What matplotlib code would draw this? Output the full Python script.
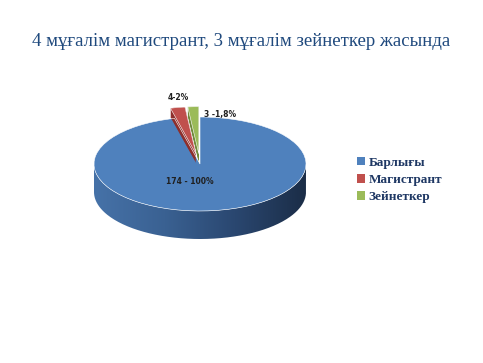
import numpy as np
import matplotlib.pyplot as plt
from matplotlib.patches import Patch, PathPatch
from matplotlib.path import Path
from matplotlib.colors import LinearSegmentedColormap

# data
labels = ['Барлығы', 'Магистрант', 'Зейнеткер']
values = [174, 4, 3]
value_labels = ['174 - 100%', '4-2%', '3 -1,8%']
colors = ['#4F81BD', '#C0504D', '#9BBB59']
side_colors = ['#2E4D75', '#8E2F2C', '#6F8A3A']
explode = [0, 0.22, 0.22]

W, H = 483, 363
fig = plt.figure(figsize=(W / 100, H / 100), dpi=100)
ax = fig.add_axes([0, 0, 1, 1])

# pie geometry in pixels (ellipse)
cx, cy, rx, ry, depth = 200, 164, 106, 47, 28
d = depth / ry

def pie_layer(cols, dy=0.0, ec='none', lw=0):
    w, _ = ax.pie(values, colors=cols, explode=explode, startangle=90,
                  counterclock=False, center=(0, -dy), radius=1,
                  wedgeprops=dict(edgecolor=ec, linewidth=lw))
    return w

# blue side band with gradient
t = np.linspace(np.pi, 2 * np.pi, 200)
xs = np.concatenate([np.cos(t), np.cos(t[::-1])])
ys = np.concatenate([np.sin(t), np.sin(t[::-1]) - d])
band = PathPatch(Path(np.column_stack([xs, ys])), facecolor='none', edgecolor='none')
ax.add_patch(band)
cmap = LinearSegmentedColormap.from_list('side', ['#4672A8', '#3A6192', '#2A4770', '#1B2D47'])
grad = np.linspace(0, 1, 256).reshape(1, -1)
im = ax.imshow(grad, cmap=cmap, extent=(-1, 1, -1 - d, 0), aspect='auto', zorder=1)
im.set_clip_path(band)

# blue top face
top_blue = pie_layer([colors[0], 'none', 'none'])
for w in top_blue:
    w.set_zorder(2)

# sides of the small slices
for k in np.linspace(0, 9 / ry, 10)[::-1]:
    for w in pie_layer(['none', side_colors[1], side_colors[2]], dy=k):
        w.set_zorder(3)
for w in pie_layer(['none', colors[1], colors[2]], ec='white', lw=0.4):
    w.set_zorder(4)

ax.set_aspect('auto')
ax.set_xlim(-cx / rx, (W - cx) / rx)
ax.set_ylim((cy - H) / ry, cy / ry)
ax.axis('off')

# value labels
lab_kw = dict(fontsize=5.5, fontweight='bold', color='#202020', ha='center', va='center',
              family='DejaVu Sans')
fig.text(190 / W, 1 - 181 / H, value_labels[0], **lab_kw)
fig.text(178 / W, 1 - 97 / H, value_labels[1], **lab_kw)
fig.text(220 / W, 1 - 114 / H, value_labels[2], **lab_kw)

# title
fig.text(0.5, 1 - 42 / H, '4 мұғалім магистрант, 3 мұғалім зейнеткер жасында',
         ha='center', va='center', fontsize=13.5, color='#1F497D',
         family='Liberation Serif')

# legend
handles = [Patch(facecolor=c, edgecolor='none') for c in colors]
leg = fig.legend(handles, labels, loc='center left', bbox_to_anchor=(345 / W, 1 - 180 / H),
                 frameon=False, handlelength=0.6, handleheight=0.6, handletextpad=0.3,
                 labelspacing=0.4,
                 prop=dict(family='Liberation Serif', weight='bold', size=9.5))
for txt in leg.get_texts():
    txt.set_color('#1F3864')

fig.savefig('out.png', dpi=100)
